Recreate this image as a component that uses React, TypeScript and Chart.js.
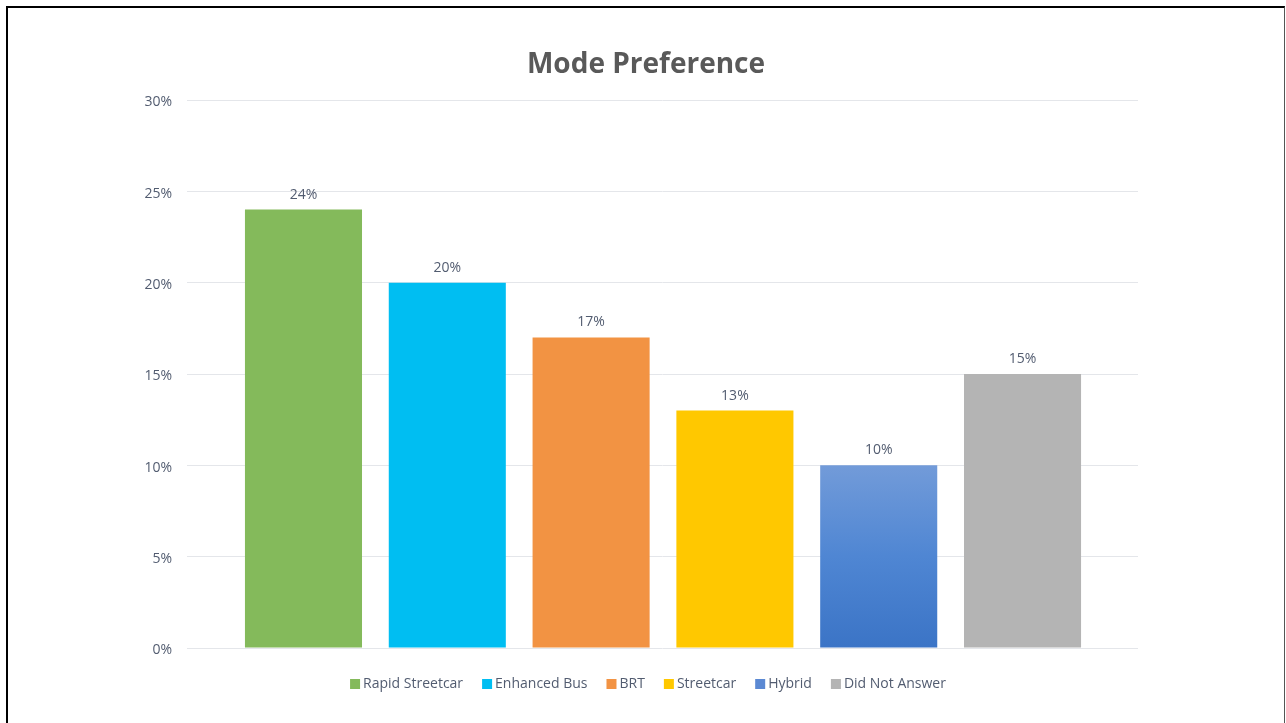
import React, { useEffect, useRef } from "react";
import { Chart, registerables } from "chart.js";

Chart.register(...registerables);

const categories = ["Rapid Streetcar", "Enhanced Bus", "BRT", "Streetcar", "Hybrid", "Did Not Answer"];
const values = [24, 20, 17, 13, 10, 15];
const barColors = ["#84BA5B", "#00BEF2", "#F29343", "#FFC800", "hybrid", "#B4B4B4"];
const legendColors = ["#84BA5B", "#00BEF2", "#F29343", "#FFC800", "#5B89D3", "#B4B4B4"];
const yTicks = [0, 5, 10, 15, 20, 25, 30];
const titleText = "Mode Preference";

const TEXT = "#525C70";
const FONT = "'Open Sans', 'DejaVu Sans', sans-serif";

const valueLabels = {
  id: "valueLabels",
  afterDatasetsDraw(chart: any) {
    const { ctx } = chart;
    const meta = chart.getDatasetMeta(0);
    ctx.save();
    ctx.font = `14px ${FONT}`;
    ctx.fillStyle = TEXT;
    ctx.textAlign = "center";
    ctx.textBaseline = "middle";
    meta.data.forEach((bar: any, i: number) => {
      ctx.fillText(values[i] + "%", bar.x, bar.y - 15);
    });
    ctx.restore();
  },
};

const customLegend = {
  id: "customLegend",
  afterDraw(chart: any) {
    const { ctx, width } = chart;
    ctx.save();
    ctx.font = `14px ${FONT}`;
    const box = 10;
    const gapText = 3;
    const gapItem = 19;
    const widths = categories.map((c) => ctx.measureText(c).width);
    const total = widths.reduce((a, w) => a + box + gapText + w, 0) + gapItem * (categories.length - 1);
    let x = width / 2 - total / 2 + 2;
    const y = chart.chartArea.bottom + 36;
    ctx.textBaseline = "middle";
    ctx.textAlign = "left";
    categories.forEach((c, i) => {
      ctx.fillStyle = legendColors[i];
      ctx.fillRect(x, y - box / 2, box, box);
      ctx.fillStyle = TEXT;
      ctx.fillText(c, x + box + gapText, y);
      x += box + gapText + widths[i] + gapItem;
    });
    ctx.restore();
  },
};

export default function App() {
  const ref = useRef<HTMLCanvasElement>(null);
  useEffect(() => {
    if (!ref.current) return;
    const chart = new Chart(ref.current, {
      type: "bar",
      data: {
        datasets: [
          {
            data: values.map((v, i) => ({ x: i, y: v })),
            backgroundColor: (c: any) => {
              const col = barColors[c.dataIndex];
              if (col !== "hybrid") return col;
              const ch = c.chart;
              if (!ch.chartArea) return "#5B89D3";
              const ys = ch.scales.y;
              const g = ch.ctx.createLinearGradient(0, ys.getPixelForValue(values[c.dataIndex]), 0, ys.getPixelForValue(0));
              g.addColorStop(0, "#729BD9");
              g.addColorStop(0.5, "#4F86D3");
              g.addColorStop(1, "#3B74C6");
              return g;
            },
            borderWidth: 0,
            categoryPercentage: 1,
            barPercentage: 0.814,
          },
        ],
      },
      options: {
        responsive: false,
        animation: false,
        layout: { padding: { left: 0, right: 0, top: 0, bottom: 75 } },
        plugins: {
          legend: { display: false },
          tooltip: { enabled: false },
          title: {
            display: true,
            text: titleText,
            color: "#595959",
            font: { family: FONT, size: 28, weight: "bold" },
            padding: { top: 40, bottom: 18.4 },
          },
        },
        scales: {
          x: {
            type: "linear",
            display: false,
            offset: false,
            min: -0.81,
            max: 5.803,
            afterBuildTicks: (s: any) => {
              s.ticks = categories.map((_, i) => ({ value: i }));
            },
          },
          y: {
            min: 0,
            max: 30,
            afterFit: (s: any) => {
              s.width = 179;
            },
            afterBuildTicks: (s: any) => {
              s.ticks = yTicks.map((v) => ({ value: v }));
            },
            ticks: {
              color: TEXT,
              font: { family: FONT, size: 14 },
              padding: 15,
              labelOffset: 2.5,
              callback: (v: any) => v + "%",
            },
            grid: { color: "#E4E6EA", drawTicks: false },
            border: { display: false },
          },
          yRight: {
            type: "linear",
            position: "right",
            display: true,
            min: 0,
            max: 30,
            afterFit: (s: any) => {
              s.width = 146;
            },
            ticks: { display: false },
            grid: { display: false, drawTicks: false },
            border: { display: false },
          },
        },
      },
      plugins: [valueLabels, customLegend],
    });
    return () => chart.destroy();
  }, []);

  return (
    <div style={{ position: "fixed", left: 0, top: 0, width: 1286, height: 723, overflow: "hidden", background: "#fff" }}>
      <div
        style={{
          position: "absolute",
          left: 6,
          top: 6,
          width: 1276,
          height: 800,
          borderLeft: "2px solid #000",
          borderTop: "2px solid #000",
          borderRight: "1px solid #555",
          background: "#fff",
        }}
      >
        <canvas ref={ref} width={1276} height={715} style={{ display: "block", width: 1276, height: 715 }} />
      </div>
    </div>
  );
}
